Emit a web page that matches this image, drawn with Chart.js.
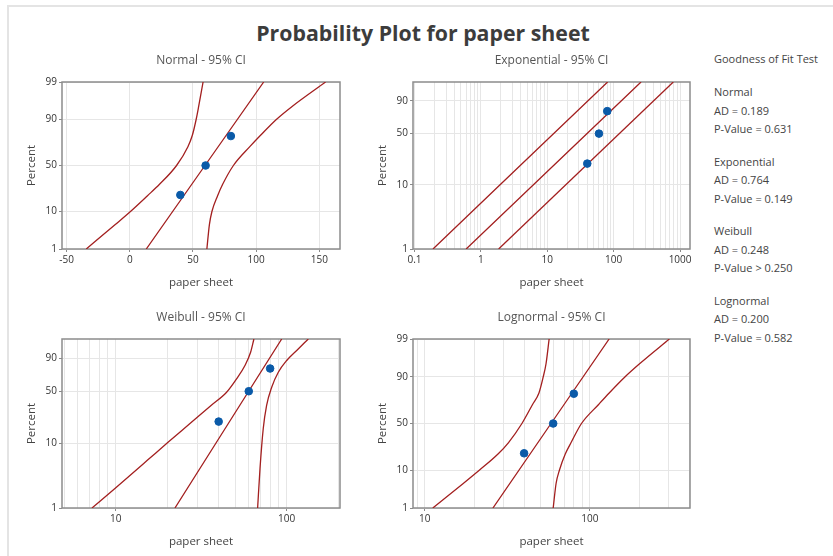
<!DOCTYPE html>
<html>
<head>
<meta charset="utf-8">
<script src="https://cdn.jsdelivr.net/npm/chart.js@4.4.0/dist/chart.umd.min.js"></script>
<style>
  html, body { margin: 0; padding: 0; background: #fff; }
  body { width: 833px; height: 556px; position: relative; overflow: hidden; font-family: 'Segoe UI', 'Open Sans', sans-serif; }
  .frame { position: absolute; left: 7px; top: 5px; width: 840px; height: 560px; border-left: 2px solid #e4e4e4; border-top: 2px solid #e4e4e4; }
  canvas { position: absolute; }
  #title { position: absolute; left: 0; width: 846px; top: 18px; text-align: center; font-weight: bold; font-size: 21.3px; color: #3c3c3c; }
  .gof { position: absolute; left: 714px; font-size: 11px; line-height: 14px; color: #444; white-space: nowrap; }
</style>
</head>
<body>
<div class="frame"></div>
<div id="title">Probability Plot for paper sheet</div>
<canvas id="normal"></canvas>
<canvas id="expo"></canvas>
<canvas id="weibull"></canvas>
<canvas id="lognormal"></canvas>
<script>
// observed values and their median-rank percents
const sheetValues = [40, 60, 80];
const sheetPercents = [20.6, 50, 79.4];

// Normal panel
const normLineX = [13, 106];
const normLineP = [1, 99];
const normBandP = [1, 5, 10, 20, 30, 50, 70, 80, 90, 95, 99];
const normLowX = [-34.5, -11.5, 0.5, 14, 23.5, 37, 46, 49.5, 52.5, 54.5, 58];
const normUpX = [61, 63, 65, 69.5, 73.5, 82, 95, 103.5, 116, 128.5, 155];

// Exponential panel (straight lines)
const expoP = [1, 99];
const expoLineX = [0.6, 258];
const expoLowX = [0.19, 81];
const expoUpX = [1.85, 790];

// Weibull panel
const weibLineX = [22.2, 93.5];
const weibLineP = [1, 99];
const weibLowX = [7.26, 10.05, 15.3, 20.3, 27.5, 36.1, 44.5, 50.9, 57, 61.5, 64.3];
const weibLowP = [1, 2.1, 5.5, 10.4, 19.8, 33.9, 48.8, 66.3, 82.9, 94.2, 99];
const weibUpX = [67.6, 69.8, 72.9, 76.3, 81.7, 89.3, 100, 114.4, 133.8];
const weibUpP = [1, 4.1, 16.3, 33.9, 55.2, 74.9, 87.9, 95.2, 99];

// Lognormal panel
const lognLineX = [25.9, 130.9];
const lognLineP = [1, 99];
const lognBandP = [1, 5, 10, 20, 30, 50, 70, 80, 90, 95, 99];
const lognLowX = [11.2, 17.2, 21.5, 27.8, 32.2, 38.8, 45, 49.2, 52.2, 54.3, 56.7];
const lognUpX = [60, 62.5, 65.5, 71, 77, 89, 113, 131, 163, 200, 303];

// tick labels
const normXTicks = [-50, 0, 50, 100, 150];
const probTicks = [1, 10, 50, 90, 99];
const weibTicks = [1, 10, 50, 90];
const expoXTicks = [0.1, 1, 10, 100, 1000];
const decadeTicks = [10, 100];

// goodness of fit
const gofNames = ['Normal', 'Exponential', 'Weibull', 'Lognormal'];
const gofAD = ['0.189', '0.764', '0.248', '0.200'];
const gofP = ['= 0.631', '= 0.149', '> 0.250', '= 0.582'];

function probit(p) {
  const a = [-3.969683028665376e+01, 2.209460984245205e+02, -2.759285104469687e+02, 1.383577518672690e+02, -3.066479806614716e+01, 2.506628277459239e+00];
  const b = [-5.447609879822406e+01, 1.615858368580409e+02, -1.556989798598866e+02, 6.680131188771972e+01, -1.328068155288572e+01];
  const c = [-7.784894002430293e-03, -3.223964580411365e-01, -2.400758277161838e+00, -2.549732539343734e+00, 4.374664141464968e+00, 2.938163982698783e+00];
  const d = [7.784695709041462e-03, 3.224671290700398e-01, 2.445134137142996e+00, 3.754408661907416e+00];
  const lo = 0.02425;
  if (p < lo || p > 1 - lo) {
    const q = Math.sqrt(-2 * Math.log(p < lo ? p : 1 - p));
    const z = (((((c[0]*q+c[1])*q+c[2])*q+c[3])*q+c[4])*q+c[5]) / ((((d[0]*q+d[1])*q+d[2])*q+d[3])*q+1);
    return p < lo ? z : -z;
  }
  const q = p - 0.5, r = q * q;
  return (((((a[0]*r+a[1])*r+a[2])*r+a[3])*r+a[4])*r+a[5])*q / (((((b[0]*r+b[1])*r+b[2])*r+b[3])*r+b[4])*r+1);
}

const transforms = {
  lin: v => v,
  log: v => Math.log10(v),
  norm: v => probit(v / 100),
  weib: v => Math.log(-Math.log(1 - v / 100))
};

// scale with a linear, log, normal-probability or weibull-probability mapping
class PlotScale extends Chart.Scale {
  static id = 'plot';
  static defaults = {};
  parse(raw) { return raw == null ? NaN : +raw; }
  determineDataLimits() {
    this.min = this.options.min;
    this.max = this.options.max;
  }
  buildTicks() {
    const major = this.options.majorTicks.map(v => ({value: v, major: true}));
    const minor = (this.options.minorTicks || []).map(v => ({value: v, major: false}));
    return major.concat(minor).sort((a, b) => a.value - b.value);
  }
  generateTickLabels(ticks) {
    ticks.forEach(t => { t.label = t.major ? String(t.value) : ''; });
  }
  configure() {
    super.configure();
    this._f = transforms[this.options.kind];
    this._t0 = this._f(this.min);
    this._t1 = this._f(this.max);
  }
  getPixelForValue(v) {
    return this.getPixelForDecimal((this._f(v) - this._t0) / (this._t1 - this._t0));
  }
  getValueForPixel(px) {
    const d = this.getDecimalForPixel(px);
    let lo = this.min, hi = this.max;
    for (let i = 0; i < 40; i++) {
      const mid = (lo + hi) / 2;
      if ((this._f(mid) - this._t0) / (this._t1 - this._t0) < d) lo = mid; else hi = mid;
    }
    return (lo + hi) / 2;
  }
  getLabelForValue(v) { return String(v); }
}
Chart.register(PlotScale);

function minorsBetween(lo, hi) {
  const out = [];
  for (let e = Math.floor(Math.log10(lo)); e <= Math.ceil(Math.log10(hi)); e++) {
    for (let k = 2; k <= 9; k++) {
      const v = +(k * Math.pow(10, e)).toPrecision(3);
      if (v >= lo && v <= hi) out.push(v);
    }
  }
  return out;
}

Chart.defaults.font.family = "'Segoe UI', 'Open Sans', sans-serif";
Chart.defaults.animation = false;

const RED = '#a31f1f';
const BLUE = '#0a5aa8';

const framePlugin = {
  id: 'frame',
  beforeDatasetsDraw(chart) {
    const {ctx, chartArea: a} = chart;
    ctx.save();
    ctx.strokeStyle = '#8c8c8c';
    ctx.lineWidth = 1.5;
    ctx.strokeRect(a.left, a.top, a.right - a.left, a.bottom - a.top);
    ctx.restore();
  }
};

const pts = (xs, ps) => xs.map((x, i) => ({x: x, y: ps[i]}));
const curve = (data) => ({data, showLine: true, borderColor: RED, borderWidth: 1.3, pointRadius: 0, fill: false, cubicInterpolationMode: 'monotone'});

const Y_W = 50, TITLE_H = 32, X_H = 45, PAD_R = 8;

function panel(id, box, title, xOpt, yOpt, curves) {
  const cv = document.getElementById(id);
  const w = box.r - box.l + Y_W + PAD_R;
  const h = box.b - box.t + TITLE_H + X_H;
  cv.width = w; cv.height = h;
  cv.style.left = (box.l - Y_W) + 'px';
  cv.style.top = (box.t - TITLE_H) + 'px';
  cv.style.width = w + 'px';
  cv.style.height = h + 'px';

  const grid = {
    color: '#e6e6e6', lineWidth: 1, tickLength: 3,
    tickColor: c => (c.tick && c.tick.major) ? '#8a8a8a' : 'rgba(0,0,0,0)'
  };
  const tickFont = {size: 10};
  new Chart(cv, {
    type: 'scatter',
    data: {
      datasets: [
        {data: pts(sheetValues, sheetPercents), pointRadius: 3.8, pointBackgroundColor: BLUE, pointBorderColor: BLUE, showLine: false}
      ].concat(curves.map(curve))
    },
    options: {
      responsive: false,
      devicePixelRatio: 1,
      layout: {padding: {left: 0, right: PAD_R, top: 0, bottom: 0}},
      plugins: {
        legend: {display: false},
        tooltip: {enabled: false},
        title: {display: true, fullSize: false, text: title, color: '#555', font: {size: 12, weight: 'normal', lineHeight: 1.2}, padding: {top: 3.3, bottom: 14.3}}
      },
      scales: {
        x: Object.assign({
          type: 'plot', position: 'bottom', grid: grid, border: {display: false},
          ticks: {font: tickFont, color: '#333', padding: 2, autoSkip: false, maxRotation: 0},
          title: {display: true, text: 'paper sheet', color: '#444', font: {size: 11.5, lineHeight: 1.2}, padding: {top: 0, bottom: 4.6}},
          afterFit: s => { s.height = X_H; }
        }, xOpt),
        y: Object.assign({
          type: 'plot', position: 'left', grid: grid, border: {display: false},
          ticks: {font: tickFont, color: '#333', padding: 2, autoSkip: false},
          title: {display: true, text: 'Percent', color: '#444', font: {size: 11.5, lineHeight: 1.2}, padding: {top: 13.1, bottom: 0}},
          afterFit: s => { s.width = Y_W; }
        }, yOpt)
      }
    },
    plugins: [framePlugin]
  });
}

panel('normal', {l: 62, r: 340, t: 82, b: 249}, 'Normal - 95% CI',
  {kind: 'lin', min: -53.7, max: 166.4, majorTicks: normXTicks},
  {kind: 'norm', min: 1, max: 99, majorTicks: probTicks},
  [pts(normLineX, normLineP), pts(normLowX, normBandP), pts(normUpX, normBandP)]);

panel('expo', {l: 412.5, r: 690, t: 82, b: 249}, 'Exponential - 95% CI',
  {kind: 'log', min: 0.095, max: 1410, majorTicks: expoXTicks, minorTicks: minorsBetween(0.095, 1410)},
  {kind: 'weib', min: 1, max: 99, majorTicks: weibTicks},
  [pts(expoLineX, expoP), pts(expoLowX, expoP), pts(expoUpX, expoP)]);

panel('weibull', {l: 62, r: 340, t: 338.5, b: 507.5}, 'Weibull - 95% CI',
  {kind: 'log', min: 4.85, max: 205, majorTicks: decadeTicks, minorTicks: minorsBetween(4.85, 205)},
  {kind: 'weib', min: 1, max: 99, majorTicks: weibTicks},
  [pts(weibLineX, weibLineP), pts(weibLowX, weibLowP), pts(weibUpX, weibUpP)]);

panel('lognormal', {l: 413, r: 690, t: 338.5, b: 507.5}, 'Lognormal - 95% CI',
  {kind: 'log', min: 8.5, max: 404, majorTicks: decadeTicks, minorTicks: minorsBetween(8.5, 404)},
  {kind: 'norm', min: 1, max: 99, majorTicks: probTicks},
  [pts(lognLineX, lognLineP), pts(lognLowX, lognBandP), pts(lognUpX, lognBandP)]);

// goodness of fit text block
function addText(text, top) {
  const el = document.createElement('div');
  el.className = 'gof';
  el.style.top = top + 'px';
  el.textContent = text;
  document.body.appendChild(el);
}
addText('Goodness of Fit Test', 52);
gofNames.forEach((name, g) => {
  const top = 85 + g * 69.6;
  addText(name, top);
  addText('AD = ' + gofAD[g], top + 18.5);
  addText('P-Value ' + gofP[g], top + 37);
});
</script>
</body>
</html>
